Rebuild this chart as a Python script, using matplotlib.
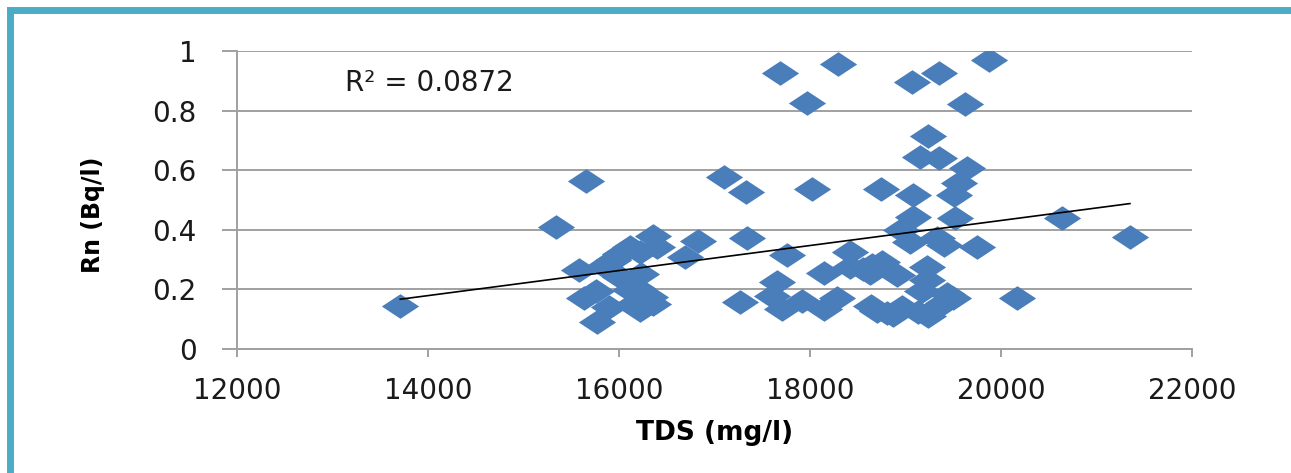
import numpy as np
import matplotlib
matplotlib.use("Agg")
import matplotlib.pyplot as plt
from matplotlib.patches import Rectangle

# TDS (mg/l) vs Rn (Bq/l)
tds = [13710, 15340, 15650, 15580, 15630, 15760, 15770, 15900, 15840, 15940,
       16010, 16120, 16220, 16010, 16230, 16190, 16120, 16320, 16360, 16220,
       16150, 16360, 16400, 16690, 16830,
       17100, 17330, 17340, 17270, 17600, 17650, 17690, 17760, 17710, 17920,
       17965, 18020, 18150, 18150, 18280, 18290, 18420, 18420, 18560, 18650,
       18640, 18700, 18740, 18750, 18810, 18630, 18910, 18960, 18870,
       18950, 19050, 19070, 19080, 19080, 19150, 19240, 19350, 19350, 19330,
       19400, 19220, 19220, 19170, 19290, 19130, 19240, 19390, 19430, 19500,
       19510, 19560, 19640, 19520, 19620, 19750, 19870, 20170, 20640, 21350]
rn = [0.145, 0.408, 0.564, 0.265, 0.170, 0.196, 0.092, 0.141, 0.280, 0.300,
      0.320, 0.342, 0.325, 0.242, 0.252, 0.205, 0.198, 0.174, 0.150, 0.131,
      0.151, 0.378, 0.342, 0.310, 0.362,
      0.577, 0.526, 0.371, 0.159, 0.178, 0.225, 0.926, 0.315, 0.133, 0.162,
      0.826, 0.536, 0.254, 0.134, 0.170, 0.955, 0.325, 0.275, 0.270, 0.282,
      0.145, 0.128, 0.536, 0.292, 0.120, 0.255, 0.250, 0.141, 0.114,
      0.399, 0.358, 0.895, 0.517, 0.443, 0.644, 0.716, 0.640, 0.926, 0.372,
      0.348, 0.275, 0.232, 0.196, 0.131, 0.123, 0.110, 0.154, 0.185, 0.170,
      0.517, 0.556, 0.606, 0.440, 0.823, 0.341, 0.970, 0.170, 0.439, 0.375]

# linear trendline ends
trend_x = [13710, 21350]
trend_y = [0.167, 0.488]

x_ticks = [12000, 14000, 16000, 18000, 20000, 22000]
y_ticks = [0, 0.2, 0.4, 0.6, 0.8, 1]
y_labels = ["0", "0.2", "0.4", "0.6", "0.8", "1"]
r2_text = "R\u00b2 = 0.0872"

blue = "#4a7ebb"
grid_col = "#a0a0a0"

fig = plt.figure(figsize=(12.91, 4.73), dpi=100)
fig.patch.set_facecolor("white")

# teal frame, only top and left edges are in view
fig.patches.append(Rectangle((9.5 / 1291, -0.2), 1.3, 1.2 - 10.5 / 473,
                             transform=fig.transFigure, fill=False,
                             edgecolor="#4bacc6", linewidth=5, zorder=0))

ax = fig.add_axes([237 / 1291, 1 - 349 / 473, 955 / 1291, 298 / 473])

# wide diamond marker like the stretched excel picture
diamond = [(-1, 0), (0, 0.66), (1, 0), (0, -0.66), (-1, 0)]
ax.scatter(tds, rn, marker=diamond, s=720, color=blue, linewidths=0, zorder=3)

ax.plot(trend_x, trend_y, color="black", linewidth=1.2, zorder=4)

ax.set_xlim(12000, 22000)
ax.set_ylim(0, 1)
ax.set_xticks(x_ticks)
ax.set_yticks(y_ticks)
ax.set_yticklabels(y_labels)

ax.grid(axis="y", color=grid_col, linewidth=1.4, zorder=0)
ax.set_axisbelow(True)
for s in ["top", "right"]:
    ax.spines[s].set_visible(False)
for s in ["left", "bottom"]:
    ax.spines[s].set_color(grid_col)
    ax.spines[s].set_linewidth(1.4)
ax.tick_params(axis="x", length=6, width=1.4, color=grid_col, pad=14,
               labelsize=20, labelcolor="#1a1a1a")
ax.tick_params(axis="y", length=11, width=1.4, color=grid_col, pad=18,
               labelsize=20, labelcolor="#1a1a1a")

ax.set_xlabel("TDS (mg/l)", fontsize=19, fontweight="bold", labelpad=11)
ax.set_ylabel("Rn (Bq/l)", fontsize=17, fontweight="bold")
ax.yaxis.set_label_coords(-0.138, 0.45)

ax.text(13130, 0.893, r2_text, fontsize=20, color="#1a1a1a", va="center")

fig.savefig("out.png", dpi=100, facecolor="white")
